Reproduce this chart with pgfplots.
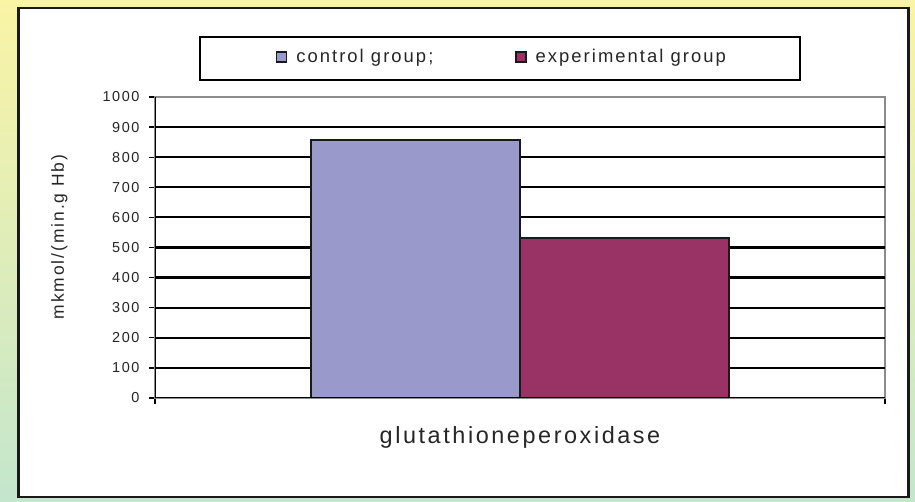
\documentclass[border=0pt]{standalone}
\usepackage{fontspec}
\setmainfont{Liberation Sans}[LetterSpace=11]
\usepackage{pgfplots}
\pgfplotsset{compat=1.18}
\pgfplotsset{sqlegend/.style={legend image code/.code={\draw[##1, line width=1.3bp] (0bp,-5bp) rectangle (10bp,5bp);}}}
\definecolor{ctrl}{RGB}{153,153,204}
\definecolor{expc}{RGB}{153,51,102}
\definecolor{bgtop}{RGB}{250,244,165}
\definecolor{bgbot}{RGB}{196,230,205}
\begin{document}
\begin{tikzpicture}[x=1bp,y=1bp]
\useasboundingbox (0,0) rectangle (915,502);
\shade[top color=bgtop, bottom color=bgbot] (0,0) rectangle (915,502);
\draw[fill=white, draw=black!90, line width=2.5bp] (18.5,5) rectangle (908.5,494);
\draw[line width=2bp, black] (200,422) rectangle (800,465);
\begin{axis}[
 at={(155bp,104bp)}, anchor=south west,
 scale only axis, width=730bp, height=301bp,
 xmin=-1.75, xmax=1.75, ymin=0, ymax=1000,
 xtick={-1.75,1.75}, xticklabels={},
 ytick={0,100,...,1000},
 extra y ticks={100,200,...,900}, extra y tick labels={},
 extra y tick style={grid=major, major grid style={black, line width=2.2bp}, major tick length=0pt},
 tick align=outside, xtick pos=bottom, ytick pos=left,
 major tick length=6bp,
 tick style={black, line width=1.3bp},
 axis line style={black!45, line width=1.6bp},
 /pgf/number format/assume math mode=true,
 /pgf/number format/set thousands separator={},
 yticklabel style={font=\fontsize{14.5}{16}\selectfont, text=black!85, xshift=-6bp},
 ylabel={mkmol/(min.g Hb)},
 ylabel style={at={(axis description cs:-0.131,0.535)}, anchor=center, font=\fontsize{17.5}{20}\selectfont, text=black!85},
 xlabel={glutathioneperoxidase},
 xlabel style={at={(axis description cs:0.5,-0.13)}, anchor=center, font=\fontsize{23.5}{26}\selectfont, text=black!85},
 legend columns=2,
 legend style={draw=none, fill=none, at={(axis description cs:0.1615,1.133)}, anchor=west,
   font=\fontsize{18.5}{20}\selectfont, text=black!85,
   /tikz/every even column/.append style={column sep=80bp},
   /tikz/every odd column/.append style={column sep=7bp}},
]
\addplot[ybar, bar width=1, bar shift=0pt, fill=ctrl, draw=black!90, line width=2bp, sqlegend] coordinates {(-0.5,857)};
\addplot[ybar, bar width=1, bar shift=0pt, fill=expc, draw=black!90, line width=2bp, sqlegend] coordinates {(0.5,531)};
\legend{control group;, experimental group}
\draw[black, line width=1.6bp] (rel axis cs:0,1) -- (rel axis cs:0,0) -- (rel axis cs:1,0);
\end{axis}
\end{tikzpicture}
\end{document}
